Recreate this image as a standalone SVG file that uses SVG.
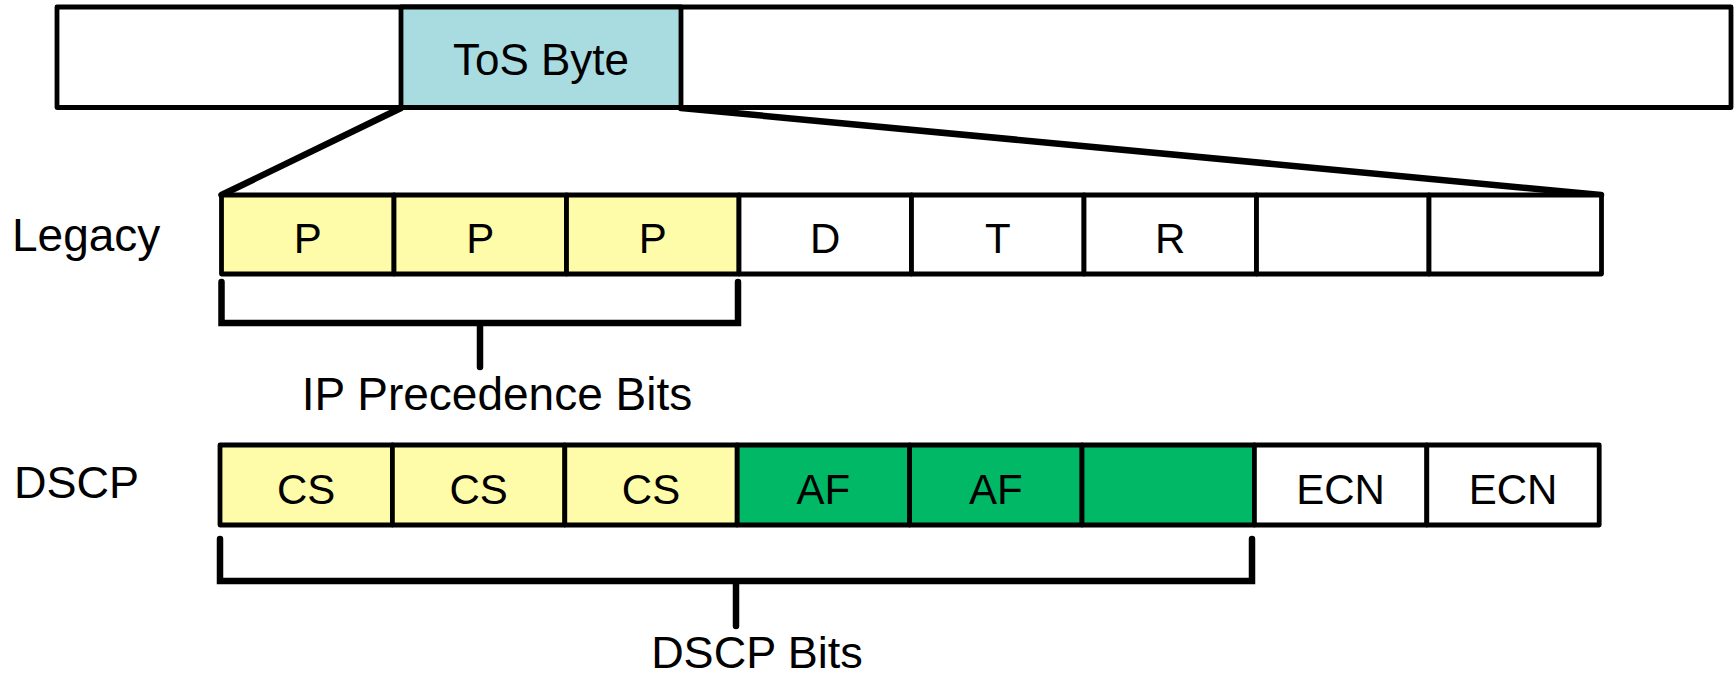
<svg xmlns="http://www.w3.org/2000/svg" width="1734" height="678" viewBox="0 0 1734 678">
<style>
.box{stroke:#000;stroke-width:4.8;stroke-linejoin:round}
.w{fill:#fff}.tos{fill:#A9DCE0}.y{fill:#FFFCA9}.g{fill:#00B865}
.t{font-family:"Liberation Sans",Arial,sans-serif;fill:#000}
.cell{font-size:42px;text-anchor:middle}
.ln{fill:none;stroke:#000;stroke-width:6.5;stroke-linecap:round;stroke-linejoin:miter}
</style>
<rect width="1734" height="678" fill="#fff"/>
<g id="header">
<rect class="box w" x="57" y="7" width="1674" height="100.5"/>
</g>
<g id="tos-byte">
<rect class="box tos" x="401" y="7" width="280" height="100.5"/>
<text class="t" x="541" y="75" font-size="44" text-anchor="middle">ToS Byte</text>
</g>
<g id="connectors">
<path class="ln" d="M401,108 L221.5,195"/>
<path class="ln" d="M681,108 L1601,195"/>
<path class="ln" d="M221.5,282 V323 H738 V282 M480,323 V367"/>
<path class="ln" d="M220,539 V581 H1252 V539 M736,581 V626"/>
</g>
<g id="legacy-label"><text class="t" x="12" y="251" font-size="46">Legacy</text></g>
<g id="legacy-row">
<rect class="box y" x="221.5" y="195" width="172.5" height="79"/>
<rect class="box y" x="394" y="195" width="172.5" height="79"/>
<rect class="box y" x="566.5" y="195" width="172.5" height="79"/>
<rect class="box w" x="739" y="195" width="172.5" height="79"/>
<rect class="box w" x="911.5" y="195" width="172.5" height="79"/>
<rect class="box w" x="1084" y="195" width="172.5" height="79"/>
<rect class="box w" x="1256.5" y="195" width="172.5" height="79"/>
<rect class="box w" x="1429" y="195" width="172.5" height="79"/>
<text class="t cell" x="307.75" y="253">P</text>
<text class="t cell" x="480.25" y="253">P</text>
<text class="t cell" x="652.75" y="253">P</text>
<text class="t cell" x="825.25" y="253">D</text>
<text class="t cell" x="997.75" y="253">T</text>
<text class="t cell" x="1170.25" y="253">R</text>
</g>
<g id="ip-precedence-label"><text class="t" x="497" y="410" font-size="46" text-anchor="middle">IP Precedence Bits</text></g>
<g id="dscp-label"><text class="t" x="14" y="498" font-size="45">DSCP</text></g>
<g id="dscp-row">
<rect class="box y" x="220" y="445" width="172.4" height="80"/>
<rect class="box y" x="392.4" y="445" width="172.4" height="80"/>
<rect class="box y" x="564.8" y="445" width="172.4" height="80"/>
<rect class="box g" x="737.2" y="445" width="172.4" height="80"/>
<rect class="box g" x="909.6" y="445" width="172.4" height="80"/>
<rect class="box g" x="1082" y="445" width="172.4" height="80"/>
<rect class="box w" x="1254.4" y="445" width="172.4" height="80"/>
<rect class="box w" x="1426.8" y="445" width="172.4" height="80"/>
<text class="t cell" x="306.2" y="504">CS</text>
<text class="t cell" x="478.6" y="504">CS</text>
<text class="t cell" x="651" y="504">CS</text>
<text class="t cell" x="823.4" y="504">AF</text>
<text class="t cell" x="995.8" y="504">AF</text>
<text class="t cell" x="1340.6" y="504">ECN</text>
<text class="t cell" x="1513" y="504">ECN</text>
</g>
<g id="dscp-bits-label"><text class="t" x="757" y="668" font-size="45" text-anchor="middle">DSCP Bits</text></g>
</svg>
